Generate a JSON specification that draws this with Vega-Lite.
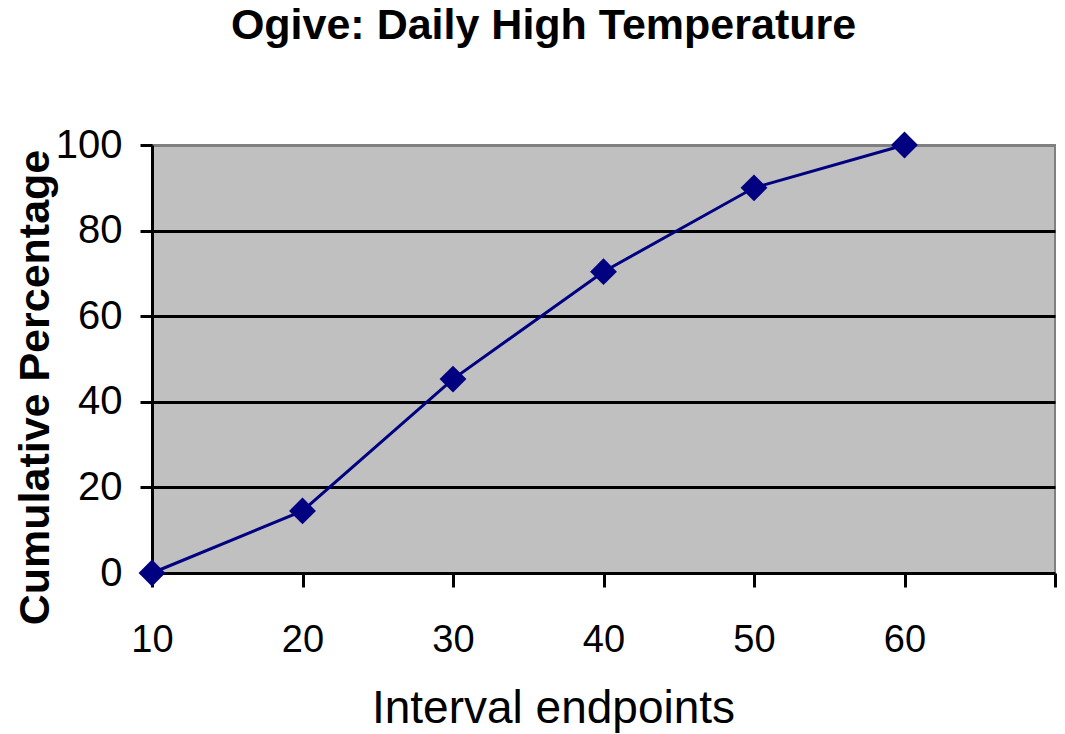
{
  "$schema": "https://vega.github.io/schema/vega-lite/v6.json",
  "width": 903,
  "height": 428,
  "autosize": {"type": "none"},
  "padding": {"left": 152, "top": 145, "right": 10, "bottom": 161},
  "background": "white",
  "title": {
    "text": "Ogive: Daily High Temperature",
    "font": "Liberation Sans",
    "fontSize": 43,
    "fontWeight": "bold",
    "color": "black",
    "anchor": "middle",
    "frame": "group",
    "dx": -60,
    "offset": 77
  },
  "config": {
    "view": {"fill": "#C0C0C0", "stroke": "#808080", "strokeWidth": 2},
    "font": "Liberation Sans"
  },
  "data": {
    "values": [
      {"endpoint": 10, "pct": 0},
      {"endpoint": 20, "pct": 14.5},
      {"endpoint": 30, "pct": 45.3},
      {"endpoint": 40, "pct": 70.4},
      {"endpoint": 50, "pct": 90},
      {"endpoint": 60, "pct": 100}
    ]
  },
  "mark": {
    "type": "line",
    "color": "#000080",
    "strokeWidth": 3,
    "clip": false,
    "point": {"shape": "diamond", "size": 720, "filled": true, "color": "#000080", "opacity": 1}
  },
  "encoding": {
    "x": {
      "field": "endpoint",
      "type": "quantitative",
      "scale": {"domain": [10, 70], "nice": false, "zero": false},
      "axis": {
        "values": [10, 20, 30, 40, 50, 60, 70],
        "labelExpr": "datum.value == 70 ? '' : datum.label",
        "grid": false,
        "domainColor": "black",
        "domainWidth": 3,
        "tickColor": "black",
        "tickWidth": 3,
        "tickSize": 14,
        "labelFont": "Liberation Sans",
        "labelFontSize": 38,
        "labelColor": "black",
        "labelPadding": 34,
        "labelFlush": false,
        "labelOverlap": false,
        "title": "Interval endpoints",
        "titleFont": "Liberation Sans",
        "titleFontSize": 46,
        "titleFontWeight": "normal",
        "titleColor": "black",
        "titleX": 401,
        "titleY": 135,
        "titleAlign": "center",
        "titleBaseline": "middle"
      }
    },
    "y": {
      "field": "pct",
      "type": "quantitative",
      "scale": {"domain": [0, 100], "nice": false},
      "axis": {
        "values": [0, 20, 40, 60, 80, 100],
        "grid": true,
        "gridColor": {"condition": {"test": "datum.value == 100 || datum.value == 0", "value": "#808080"}, "value": "black"},
        "gridWidth": 3,
        "gridOpacity": 1,
        "domainColor": "black",
        "domainWidth": 3,
        "tickColor": "black",
        "tickWidth": 3,
        "tickSize": 12,
        "labelFont": "Liberation Sans",
        "labelFontSize": 40,
        "labelColor": "black",
        "labelPadding": 18,
        "labelFlush": false,
        "labelOverlap": false,
        "title": "Cumulative Percentage",
        "titleFont": "Liberation Sans",
        "titleFontSize": 43,
        "titleFontWeight": "bold",
        "titleColor": "black",
        "titleAngle": -90,
        "titleX": -117,
        "titleY": 242,
        "titleAlign": "center",
        "titleBaseline": "middle"
      }
    }
  }
}
